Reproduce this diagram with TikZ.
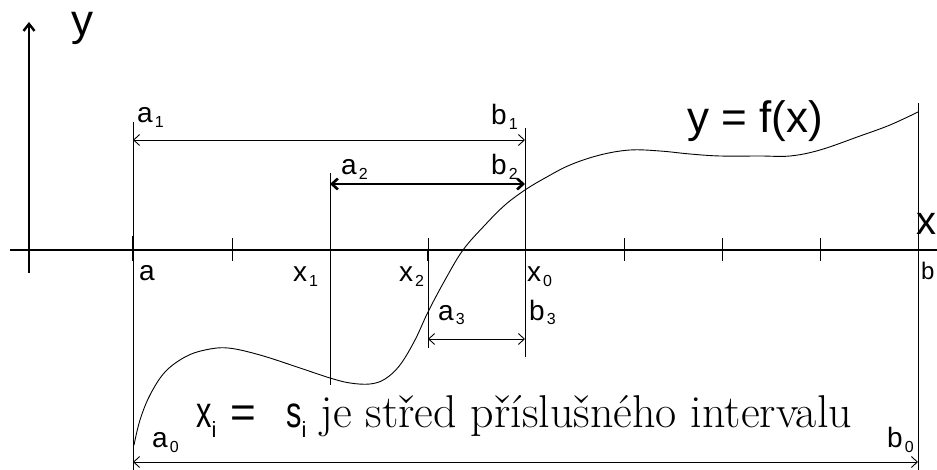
\documentclass[tikz,border=0pt]{standalone}
\usepackage{fontspec}
\newfontfamily\arial{Liberation Sans}
\usetikzlibrary{arrows.meta}
% popisek s indexem
\newcommand\lbl[2]{{\arial\fontsize{28}{28}\selectfont #1\hspace{2pt}\raisebox{-5pt}{\fontsize{16}{16}\selectfont #2}}}
\newcommand\velke{\fontsize{44}{44}\selectfont}
\begin{document}
\begin{tikzpicture}[x=1pt,y=-1pt,
    tenka/.style={line width=0.9pt},
    hrot/.style={{Straight Barb[length=6pt,width=11pt]}-{Straight Barb[length=6pt,width=11pt]}},
    popis/.style={anchor=base west,inner sep=0pt}]
    \useasboundingbox (0,0) rectangle (937,470);
    % Osy
    \draw[line width=1.4pt] (10,250) -- (937,250);
    \draw[line width=2.4pt,-{Straight Barb[length=7pt,width=11pt]}] (29,273) -- (29,22);
    \node[popis] (ylab) at (71,36) {\arial\velke y};
    \node[popis] (xlab) at (916,235) {\arial\fontsize{40}{40}\selectfont x};
    % Dílky
    \foreach \x in {232,624,722,820}
        \draw[tenka] (\x,238) -- (\x,261);
    \draw[line width=2.6pt] (133,236) -- (133,261);
    \draw[line width=2.2pt] (428,250) -- (428,261);
    % Svislice
    \draw[tenka] (133,122) -- (133,470);
    \draw[tenka] (918,103) -- (918,470);
    \draw[tenka] (330,173) -- (330,385);
    \draw[tenka] (428,238) -- (428,348);
    \draw[tenka] (525,128) -- (525,357);
    % Intervaly
    \coordinate (a0) at (133,462); \coordinate (b0) at (918,462);
    \coordinate (a1) at (133,140); \coordinate (b1) at (525,140);
    \coordinate (a2) at (330,184); \coordinate (b2) at (525,184);
    \coordinate (a3) at (428,339); \coordinate (b3) at (525,339);
    \draw[tenka,hrot] (a0) -- (b0);
    \draw[tenka,hrot] (a1) -- (b1);
    \draw[line width=2.6pt,hrot] (a2) -- (b2);
    \draw[tenka,hrot] (a3) -- (b3);
    % Křivka
    \draw[tenka] plot[smooth,tension=0.6] coordinates {
        (134,445) (140,420) (150,395) (165,372) (185,357) (205,350)
        (228,348) (260,355) (300,368) (330,378) (350,383) (370,384)
        (385,379) (400,365) (415,340) (428,312) (445,280) (463,250)
        (485,225) (505,205) (525,190) (545,178) (570,165) (600,155)
        (630,150) (660,151) (690,154) (720,156) (760,156) (790,156)
        (820,150) (860,136) (890,125) (918,112)};
    \node[popis] (fx) at (687,133) {\arial\velke y = f(x)};
    % Popisky
    \node[popis] (la1) at (137,123) {\lbl{a}{1}};
    \node[popis] (lb1) at (491,125) {\lbl{b}{1}};
    \node[popis] (la2) at (341,175) {\lbl{a}{2}};
    \node[popis] (lb2) at (491,175) {\lbl{b}{2}};
    \node[popis] (la) at (139,281) {\arial\fontsize{28}{28}\selectfont a};
    \node[popis] (lx1) at (293,282) {\lbl{x}{1}};
    \node[popis] (lx2) at (399,282) {\lbl{x}{2}};
    \node[popis] (lx0) at (527,282) {\lbl{x}{0}};
    \node[popis] (la3) at (438,320) {\lbl{a}{3}};
    \node[popis] (lb3) at (529,320) {\lbl{b}{3}};
    \node[popis] (la0) at (152,447) {\lbl{a}{0}};
    \node[popis] (lb0) at (887,447) {\lbl{b}{0}};
    \node[popis] (lb) at (921,280) {\arial\fontsize{24}{24}\selectfont b};
    % Text
    \node[popis] (stred) at (196,427) {\arial\velke\scalebox{.7}[1]{x}\raisebox{-10pt}{\fontsize{22}{22}\selectfont i}\hspace{14pt}=\hspace{30pt}\scalebox{.7}[1]{s}\raisebox{-10pt}{\fontsize{22}{22}\selectfont i}\hspace{14pt}\rmfamily\fontsize{46}{46}\selectfont je střed příslušného intervalu};
\end{tikzpicture}
\end{document}
